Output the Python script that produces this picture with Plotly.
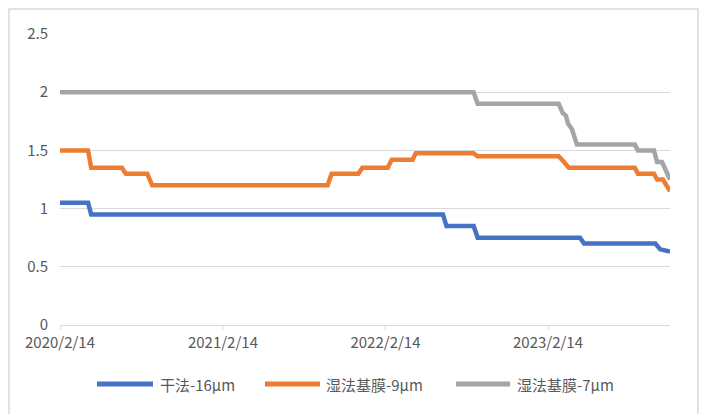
import plotly.graph_objects as go

# ---- data ----
dry16_dates = ["2020-02-14", "2020-04-17", "2020-04-24", "2022-06-23", "2022-07-01",
               "2022-08-31", "2022-09-09", "2023-04-27", "2023-05-06", "2023-10-13",
               "2023-10-24", "2023-11-15"]
dry16_vals = [1.05, 1.05, 0.95, 0.95, 0.85, 0.85, 0.75, 0.75, 0.70, 0.70, 0.65, 0.63]

wet9_dates = ["2020-02-14", "2020-04-17", "2020-04-24", "2020-07-02", "2020-07-11",
              "2020-08-28", "2020-09-08", "2021-10-07", "2021-10-16", "2021-12-15",
              "2021-12-24", "2022-02-19", "2022-02-28", "2022-04-16", "2022-04-23",
              "2022-08-31", "2022-09-09", "2023-03-10", "2023-03-22", "2023-04-02",
              "2023-08-28", "2023-09-04", "2023-10-10", "2023-10-17", "2023-10-30",
              "2023-11-15"]
wet9_vals = [1.50, 1.50, 1.35, 1.35, 1.30, 1.30, 1.20, 1.20, 1.30, 1.30,
             1.35, 1.35, 1.42, 1.42, 1.475, 1.475, 1.45, 1.45, 1.40, 1.35,
             1.35, 1.30, 1.30, 1.25, 1.25, 1.15]

wet7_dates = ["2020-02-14", "2022-08-31", "2022-09-09", "2023-03-10", "2023-03-19",
              "2023-03-26", "2023-03-31", "2023-04-09", "2023-04-20", "2023-08-28",
              "2023-09-04", "2023-10-10", "2023-10-17", "2023-10-28", "2023-11-15"]
wet7_vals = [2.0, 2.0, 1.9, 1.9, 1.82, 1.80, 1.73, 1.68, 1.55, 1.55,
             1.50, 1.50, 1.40, 1.40, 1.25]

series_names = ["干法-16μm", "湿法基膜-9μm", "湿法基膜-7μm"]
series_colors = ["#4472C4", "#ED7D31", "#A5A5A5"]

x_tick_vals = ["2020-02-14", "2021-02-14", "2022-02-14", "2023-02-14"]
x_tick_text = ["2020/2/14", "2021/2/14", "2022/2/14", "2023/2/14"]
y_tick_vals = [0, 0.5, 1, 1.5, 2, 2.5]
y_tick_text = ["0", "0.5", "1", "1.5", "2", "2.5"]

FONT = "Noto Sans CJK SC"
TXT = "#595959"
FS = 15

fig = go.Figure()
all_series = [(dry16_dates, dry16_vals), (wet9_dates, wet9_vals), (wet7_dates, wet7_vals)]
for (xs, ys), name, col in zip(all_series, series_names, series_colors):
    fig.add_trace(go.Scatter(x=xs, y=ys, mode="lines", name=name,
                             line=dict(color=col, width=4.5), showlegend=False))

# page has an 8px body margin: figure is offset by (8, 8)
OFF = 8
FW, FH = 707 - OFF, 414 - OFF
# plot area in page px: x 60..670, y 34..325
L, R, T, B = 60, 670, 34, 325
W, H = R - L, B - T

def px(xp):
    return (xp - L) / W

def py(yp):
    return (B - yp) / H

shapes = []
# outer frame
shapes.append(dict(type="rect", xref="paper", yref="paper",
                   x0=px(9), x1=px(698), y0=py(440), y1=py(9),
                   line=dict(color="#D9D9D9", width=1.5), fillcolor="rgba(0,0,0,0)", layer="below"))

annotations = []
legend_pos = [(97, 153, 158), (265, 320, 324), (456, 510, 515)]
ly = 384
for (x0, x1, tx), name, col in zip(legend_pos, series_names, series_colors):
    shapes.append(dict(type="line", xref="paper", yref="paper",
                       x0=px(x0), x1=px(x1), y0=py(ly), y1=py(ly),
                       line=dict(color=col, width=5)))
    annotations.append(dict(xref="paper", yref="paper", x=px(tx), y=py(ly),
                            xanchor="left", yanchor="middle", text=name, showarrow=False,
                            font=dict(family=FONT, size=FS, color=TXT)))

fig.update_layout(
    width=FW, height=FH,
    margin=dict(l=L - OFF, r=FW - (R - OFF), t=T - OFF, b=FH - (B - OFF), autoexpand=False),
    paper_bgcolor="white", plot_bgcolor="white",
    font=dict(family=FONT, size=FS, color=TXT),
    shapes=shapes, annotations=annotations,
    xaxis=dict(type="date", range=["2020-02-14", "2023-11-15"],
               tickvals=x_tick_vals, ticktext=x_tick_text,
               showgrid=False, zeroline=False,
               showline=True, linecolor="#D9D9D9", linewidth=1,
               ticks="outside", ticklen=4, tickcolor="#D9D9D9",
               tickfont=dict(family=FONT, size=FS, color=TXT)),
    yaxis=dict(range=[0, 2.5], tickvals=y_tick_vals, ticktext=y_tick_text,
               showgrid=True, gridcolor="#D9D9D9", gridwidth=1,
               zeroline=False, showline=False, ticks="",
               ticklabelstandoff=11,
               tickfont=dict(family=FONT, size=FS, color=TXT)),
)

fig.write_html("out.html")
